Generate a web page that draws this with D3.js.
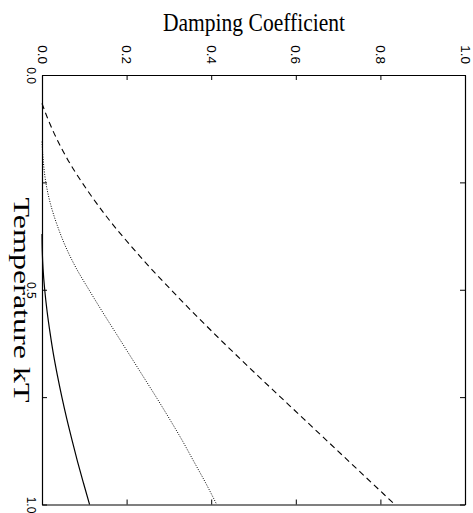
<!DOCTYPE html>
<html>
<head>
<meta charset="utf-8">
<script src="https://cdn.jsdelivr.net/npm/d3@7"></script>
<style>
  html, body { margin: 0; padding: 0; background: #fff; }
  svg { display: block; }
</style>
</head>
<body>
<svg id="chart" width="473" height="513"></svg>
<script>
// Damping coefficient vs temperature, three model curves (plot turned on its side)
const dampTicks = [0, 0.2, 0.4, 0.6, 0.8, 1.0];
const tempTicks = [0, 0.25, 0.5, 0.75, 1.0];
const tempLabelled = [0, 0.5, 1.0];

const tempDashed = [0.066, 0.10, 0.15, 0.20, 0.25, 0.30, 0.35, 0.40, 0.45, 0.50, 0.55, 0.60, 0.65, 0.70, 0.75, 0.80, 0.85, 0.90, 0.95, 1.0];
const dampDashed = [0, 0.013, 0.0355, 0.0625, 0.0945, 0.130, 0.169, 0.212, 0.257, 0.305, 0.354, 0.405, 0.457, 0.510, 0.564, 0.618, 0.672, 0.726, 0.780, 0.834];

const tempDotted = [0.155, 0.20, 0.25, 0.30, 0.35, 0.40, 0.45, 0.50, 0.55, 0.60, 0.65, 0.70, 0.75, 0.80, 0.85, 0.90, 0.95, 1.0];
const dampDotted = [0, 0.003, 0.009, 0.020, 0.036, 0.056, 0.081, 0.111, 0.142, 0.174, 0.206, 0.238, 0.270, 0.301, 0.331, 0.359, 0.387, 0.413];

const tempSolid = [0.37, 0.41, 0.45, 0.50, 0.55, 0.60, 0.65, 0.70, 0.75, 0.80, 0.85, 0.90, 0.95, 1.0];
const dampSolid = [0, 0.0006, 0.0024, 0.0064, 0.012, 0.019, 0.027, 0.0365, 0.047, 0.0585, 0.071, 0.084, 0.098, 0.1125];

const svg = d3.select("#chart");
const plotLeft = 42, plotRight = 465, plotTop = 75, plotBottom = 504.5;

// damping runs left→right, temperature runs top→bottom
const x = d3.scaleLinear().domain([0, 1]).range([plotLeft, plotRight]);
const y = d3.scaleLinear().domain([0, 1]).range([plotTop, plotBottom]);

const fmt = d3.format(".1f");
const tickFont = "'Liberation Sans', Arial, Helvetica, sans-serif";

// Top axis (damping) with inward ticks and rotated labels
const gTop = svg.append("g").attr("transform", `translate(0,${plotTop})`)
  .call(d3.axisTop(x).tickValues(dampTicks).tickFormat(fmt).tickSizeInner(-5).tickSizeOuter(0));
gTop.selectAll("text")
  .attr("transform", "rotate(90)")
  .attr("x", -11).attr("y", 5).attr("dy", null)
  .attr("text-anchor", "end")
  .style("font-family", tickFont).style("font-size", "13.5px").attr("fill", "#000");

// Bottom axis, ticks only
svg.append("g").attr("transform", `translate(0,${plotBottom})`)
  .call(d3.axisBottom(x).tickValues(dampTicks).tickFormat("").tickSizeInner(-5).tickSizeOuter(0));

// Left axis (temperature) with inward ticks, labels at 0, 0.5, 1
const gLeft = svg.append("g").attr("transform", `translate(${plotLeft},0)`)
  .call(d3.axisLeft(y).tickValues(tempTicks)
    .tickFormat(d => tempLabelled.includes(d) ? fmt(d) : "")
    .tickSizeInner(-5).tickSizeOuter(0));
gLeft.selectAll("text")
  .attr("transform", "rotate(90)")
  .attr("x", 0).attr("y", 15).attr("dy", null)
  .attr("text-anchor", "middle")
  .style("font-family", tickFont).style("font-size", "12px").attr("fill", "#000");

// Right axis, ticks only
svg.append("g").attr("transform", `translate(${plotRight},0)`)
  .call(d3.axisRight(y).tickValues(tempTicks).tickFormat("").tickSizeInner(-5).tickSizeOuter(0));

svg.selectAll(".domain").attr("stroke", "#000").attr("stroke-width", 1.2);
svg.selectAll(".tick line").attr("stroke", "#000").attr("stroke-width", 1);

// Curves
const line = d3.line()
  .x(d => x(d.v))
  .y(d => y(d.t))
  .curve(d3.curveMonotoneY);

const series = [
  { t: tempDashed, v: dampDashed, dash: "6,4", w: 1.1 },
  { t: tempDotted, v: dampDotted, dash: "1,1.5", w: 1 },
  { t: tempSolid,  v: dampSolid,  dash: null,  w: 1.2 }
];

series.forEach(s => {
  const pts = s.t.map((t, i) => ({ t, v: s.v[i] }));
  svg.append("path")
    .datum(pts)
    .attr("d", line)
    .attr("fill", "none")
    .attr("stroke", "#000")
    .attr("stroke-width", s.w)
    .attr("stroke-dasharray", s.dash);
});

// Titles
svg.append("text")
  .attr("x", 254).attr("y", 31)
  .attr("text-anchor", "middle")
  .attr("textLength", 182).attr("lengthAdjust", "spacingAndGlyphs")
  .style("font-family", "'Liberation Serif', 'Times New Roman', serif")
  .style("font-size", "26px")
  .text("Damping Coefficient");

svg.append("text")
  .attr("transform", `translate(14,300) rotate(90)`)
  .attr("text-anchor", "middle")
  .attr("textLength", 205).attr("lengthAdjust", "spacingAndGlyphs")
  .style("font-family", "'Liberation Serif', 'Times New Roman', serif")
  .style("font-size", "23px")
  .text("Temperature kT");
</script>
</body>
</html>
